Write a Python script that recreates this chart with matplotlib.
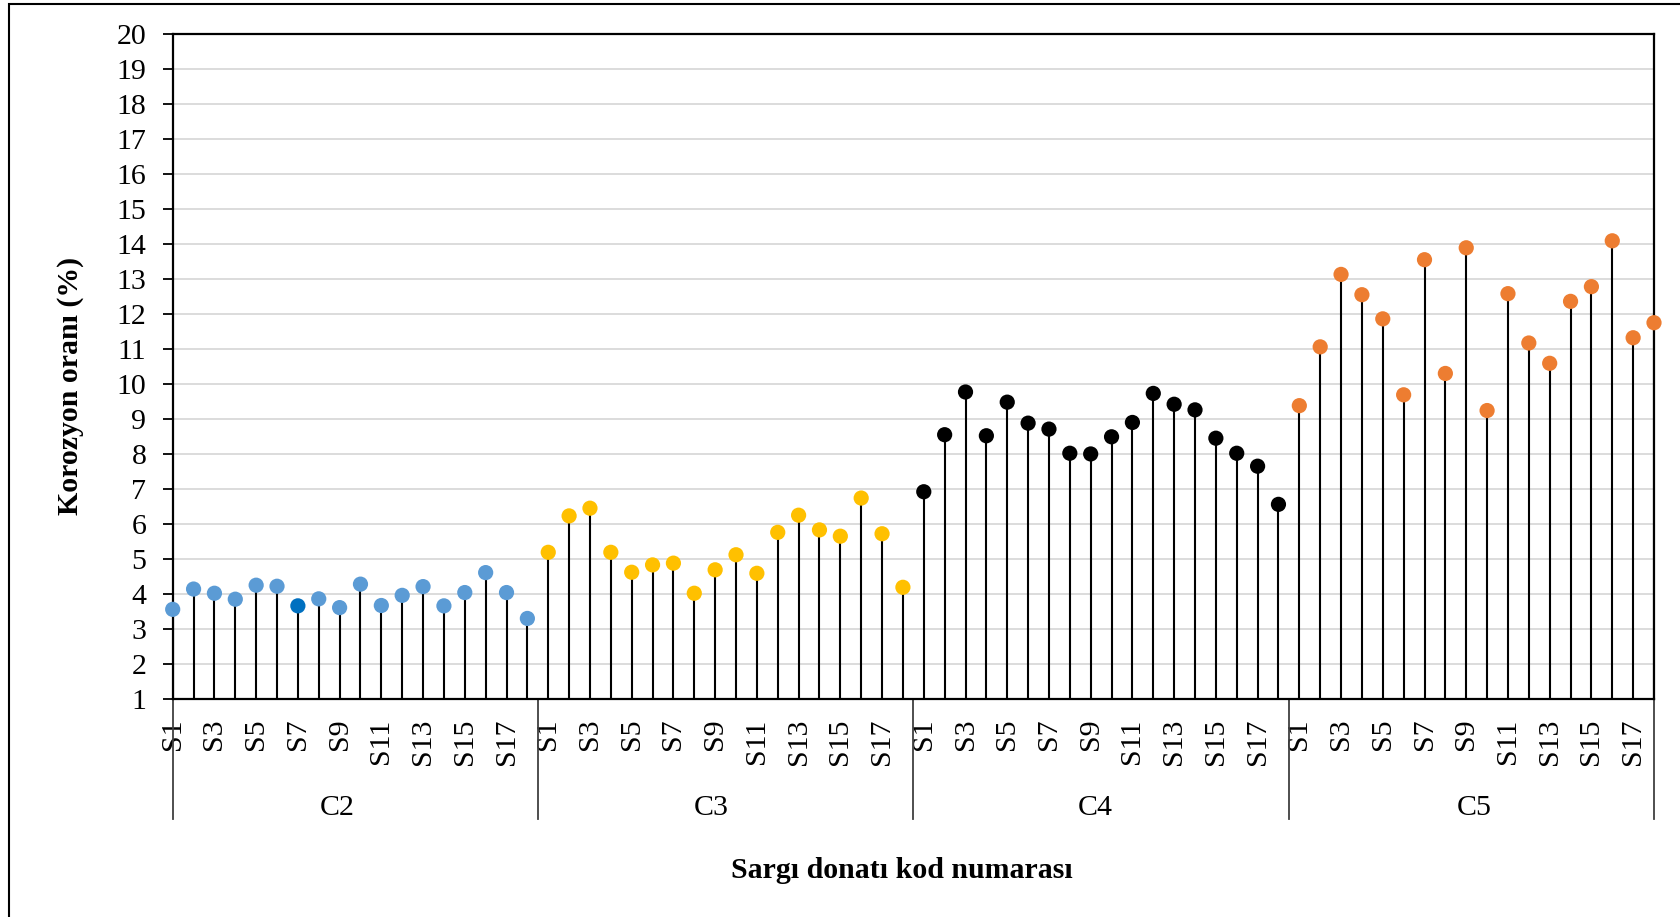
import numpy as np
import matplotlib
matplotlib.use('Agg')
import matplotlib.pyplot as plt
from matplotlib.patches import Rectangle

plt.rcParams['font.family'] = ['Liberation Serif', 'DejaVu Serif']

groups = ['C2', 'C3', 'C4', 'C5']
samples = ['S%d' % i for i in range(1, 19)]

c2 = [3.57, 4.15, 4.03, 3.86, 4.26, 4.23, 3.67, 3.87, 3.62,
      4.29, 3.68, 3.97, 4.22, 3.67, 4.05, 4.62, 4.05, 3.31]
c3 = [5.20, 6.24, 6.46, 5.20, 4.63, 4.84, 4.89, 4.03, 4.70,
      5.13, 4.60, 5.77, 6.26, 5.84, 5.66, 6.75, 5.73, 4.20]
c4 = [6.93, 8.56, 9.78, 8.53, 9.49, 8.89, 8.72, 8.03, 8.01,
      8.50, 8.91, 9.74, 9.43, 9.27, 8.46, 8.03, 7.66, 6.57]
c5 = [9.39, 11.07, 13.14, 12.56, 11.87, 9.70, 13.56, 10.31, 13.90,
      9.25, 12.59, 11.18, 10.60, 12.37, 12.79, 14.10, 11.33, 11.76]

series = [c2, c3, c4, c5]
colors = ['#5B9BD5', '#FFC000', '#000000', '#ED7D31']
highlight = {(0, 6): '#0070C0'}   # C2 / S7 is drawn darker

# group label x positions as Excel placed them (category units)
group_label_x = [7.9, 25.8, 44.2, 62.4]

W, H = 1681, 917
fig = plt.figure(figsize=(W / 100, H / 100), dpi=100)
ax = fig.add_axes([172.7 / W, 1 - 699.3 / H, (1654 - 172.7) / W, (699.3 - 34.3) / H])

n = len(samples)
for g, vals in enumerate(series):
    x = np.arange(n) + g * n
    ax.vlines(x, 1, vals, color='black', lw=1.5, zorder=3)
    cols = [highlight.get((g, i), colors[g]) for i in range(n)]
    ax.scatter(x, vals, s=120, c=cols, edgecolors='none', zorder=4, clip_on=False)

ax.set_xlim(0, len(groups) * n - 1)
ax.set_ylim(1, 20)
ax.set_yticks(np.arange(1, 21))
ax.yaxis.grid(True, color='#D9D9D9', lw=1.3)
ax.set_axisbelow(True)

xt = [g * n + i for g in range(len(groups)) for i in range(0, n, 2)]
ax.set_xticks(xt)
ax.set_xticklabels([samples[i] for g in range(len(groups)) for i in range(0, n, 2)],
                   rotation=90, fontsize=21.5)
ax.tick_params(axis='x', length=0, pad=14)
ax.tick_params(axis='y', direction='out', length=7, width=1.3, labelsize=21.5, pad=12)

for s in ax.spines.values():
    s.set_linewidth(1.6)
    s.set_color('black')

# group separators below the axis
trans = ax.get_xaxis_transform()
seps = [0] + [g * n - 0.5 for g in range(1, len(groups))] + [len(groups) * n - 1]
for sx in seps:
    ax.plot([sx, sx], [0, -0.18], transform=trans, color='#404040', lw=1.3, clip_on=False)

for gx, name in zip(group_label_x, groups):
    ax.text(gx, -0.164, name, transform=trans, ha='center', va='center', fontsize=21.5)

fig.text(902 / W, 1 - 870 / H, 'Sargı donatı kod numarası', ha='center', va='center',
         fontsize=21.5, fontweight='bold')
fig.text(70 / W, 1 - 386 / H, 'Korozyon oranı (%)', ha='center', va='center',
         rotation=90, fontsize=21.5, fontweight='bold')

# outer chart frame
fig.add_artist(Rectangle((9 / W, -0.1), 1.2, 1 - 4 / H + 0.1, transform=fig.transFigure,
                         fill=False, lw=1.5, edgecolor='black'))

fig.savefig('out.png', dpi=100)
